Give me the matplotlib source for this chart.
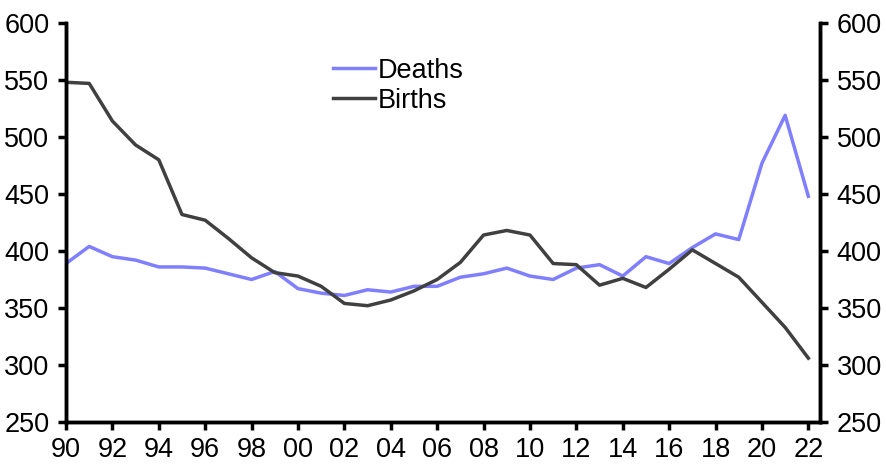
import numpy as np
import matplotlib
import matplotlib.pyplot as plt

# data (thousands)
years = np.arange(1990, 2023)
deaths = [389, 404, 395, 392, 386, 386, 385, 380, 375, 382,
          367, 363, 361, 366, 364, 369, 369, 377, 380, 385,
          378, 375, 385, 388, 378, 395, 389, 403, 415, 410,
          477, 519, 448]
births = [548, 547, 514, 493, 480, 432, 427, 411, 394, 381,
          378, 369, 354, 352, 357, 365, 375, 390, 414, 418,
          414, 389, 388, 370, 376, 368, 384, 401, 389, 377,
          355, 333, 306]
xticks = np.arange(1990, 2023, 2)
xticklabels = ['%02d' % (y % 100) for y in xticks]
yticks = np.arange(250, 601, 50)

matplotlib.rcParams.update({'font.size': 19.5,
                            'font.family': ['Liberation Sans', 'DejaVu Sans']})

fig = plt.figure(figsize=(8.87, 4.75), dpi=100)
ax = fig.add_axes([0.0744, 0.1116, 0.85, 0.84])

ax.plot(years, deaths, color='#7f7fff', linewidth=2.5, label='Deaths')
ax.plot(years, births, color='#404040', linewidth=2.5, label='Births')

ax.set_xlim(1990, 2022.5)
ax.set_ylim(250, 600)
ax.set_xticks(xticks)
ax.set_xticklabels(xticklabels)
ax.set_yticks(yticks)

ax2 = ax.twinx()
ax2.set_ylim(250, 600)
ax2.set_yticks(yticks)

for a in (ax, ax2):
    a.spines['top'].set_visible(False)
    for s in a.spines.values():
        s.set_linewidth(2.5)
    a.tick_params(width=2.5, length=6, direction='out', pad=6)
ax.tick_params(axis='x', pad=5)

ax.legend(loc='upper left', bbox_to_anchor=(0.34, 0.94), frameon=False,
          handlelength=1.55, handletextpad=0.1, labelspacing=0.15,
          borderaxespad=0)

fig.savefig('out.png', dpi=100)
